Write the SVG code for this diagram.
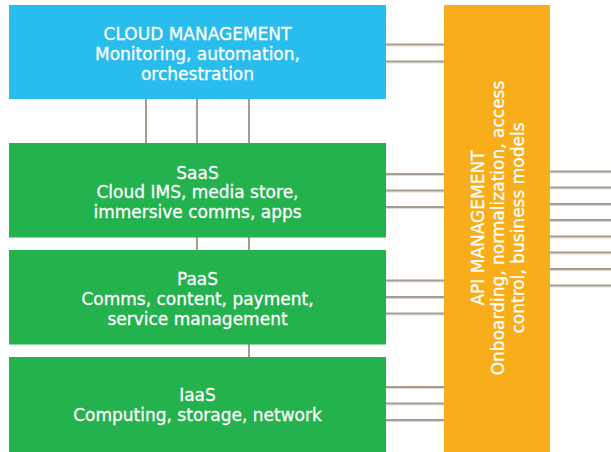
<svg xmlns="http://www.w3.org/2000/svg" width="611" height="452" viewBox="0 0 611 452">
<style>
.t{font-family:"DejaVu Sans",sans-serif;font-size:17px;fill:#fff;stroke:#fff;stroke-width:0.3;text-anchor:middle}
.c{stroke:#A89C90;stroke-width:2;fill:none}
.s{stroke:#DDD8D3;stroke-width:1;fill:none}
</style>
<rect width="611" height="452" fill="#fff"/>
<g id="connectors">
<path class="c" d="M146 99V143M197 99V143M249 99V143M197 237V250M249 237V250M249 344V357"/>
<path class="s" d="M386 46H444M386 63H444M386 175.5H444M386 192H444M386 208.5H444M386 282H444M386 298.5H444M386 315H444M386 388.5H444M386 405H444M386 421.5H444"/>
<path class="c" d="M386 44.5H444M386 61.5H444M386 174H444M386 190.5H444M386 207H444M386 280.5H444M386 297H444M386 313.5H444M386 387H444M386 403.5H444M386 420H444"/>
<path class="s" d="M550 173H611M550 189H611M550 205.5H611M550 221.5H611M550 238H611M550 254H611M550 270.5H611M550 287H611"/>
<path class="c" d="M550 171.5H611M550 187.5H611M550 204H611M550 220H611M550 236.5H611M550 252.5H611M550 269H611M550 285.5H611"/>
</g>
<g id="cloud">
<rect x="9" y="5" width="377" height="94" fill="#29BDEE"/>
<text class="t" x="197.5" y="40">CLOUD MANAGEMENT</text>
<text class="t" x="197.5" y="60">Monitoring, automation,</text>
<text class="t" x="197.5" y="79.5">orchestration</text>
</g>
<g id="saas">
<rect x="9" y="143" width="377" height="94.5" fill="#23B24D"/>
<text class="t" x="197.5" y="178.5">SaaS</text>
<text class="t" x="197.5" y="198">Cloud IMS, media store,</text>
<text class="t" x="197.5" y="217.5">immersive comms, apps</text>
</g>
<g id="paas">
<rect x="9" y="250" width="377" height="94.5" fill="#23B24D"/>
<text class="t" x="197.5" y="285">PaaS</text>
<text class="t" x="197.5" y="305">Comms, content, payment,</text>
<text class="t" x="197.5" y="324.5">service management</text>
</g>
<g id="iaas">
<rect x="9" y="357" width="377" height="95" fill="#23B24D"/>
<text class="t" x="197.5" y="401">IaaS</text>
<text class="t" x="197.5" y="420.5">Computing, storage, network</text>
</g>
<g id="api">
<rect x="444" y="5" width="106" height="447" fill="#F8AE1B"/>
<g transform="translate(0,228) rotate(-90)">
<text class="t" x="0" y="483.5">API MANAGEMENT</text>
<text class="t" x="0" y="503.5">Onboarding, normalization, access</text>
<text class="t" x="0" y="523.5">control, business models</text>
</g>
</g>
</svg>
